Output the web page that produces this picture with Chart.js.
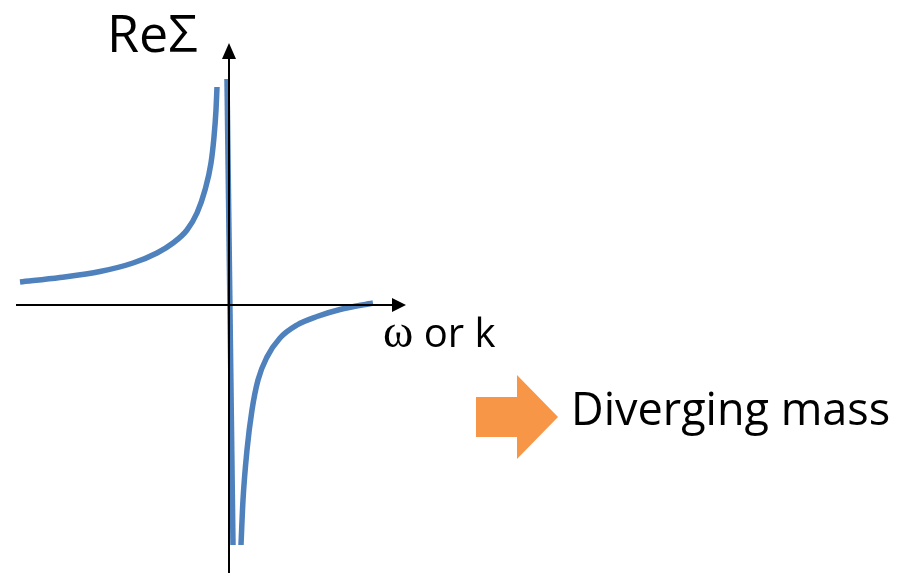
<!DOCTYPE html>
<html>
<head>
<meta charset="utf-8">
<script src="https://cdn.jsdelivr.net/npm/chart.js@4"></script>
<style>
  html, body { margin: 0; padding: 0; background: #fff; }
  #wrap { width: 915px; height: 573px; position: relative; }
</style>
</head>
<body>
<div id="wrap"><canvas id="chart1"></canvas></div>
<script>
// points (x = omega or k, y = Re Sigma), arbitrary units
const leftX  = [-20.9, -16.9, -12.9, -9.6, -7.2, -5.6, -4.2, -3.2, -2.4, -1.8, -1.5, -1.3, -1.2];
const leftY  = [2.3, 2.75, 3.35, 4.2, 5.2, 6.2, 7.5, 9.2, 11.5, 14.2, 16.8, 19.5, 21.8];
const midX   = [-0.2, 0.4];
const midY   = [22.6, -24.0];
const rightX = [1.2, 1.4, 1.8, 2.3, 2.9, 3.8, 5.1, 6.8, 8.8, 11.1, 14.4];
const rightY = [-24.0, -19.5, -14.5, -10.5, -7.5, -5.2, -3.3, -2.0, -1.15, -0.45, 0.2];

// axis extents
const xAxisFrom = -21.3, xAxisTo = 16.4;
const yAxisFrom = -26.8, yAxisTo = 24.7;

const yLabel = 'ReΣ';
const xLabelSym = 'ω';
const xLabelRest = ' or k';
const noteText = 'Diverging mass';

function pts(xs, ys) {
    return xs.map(function(x, i) { return { x: x, y: ys[i] }; });
}

const blue = '#4f81bd';

const decorPlugin = {
    id: 'decor',
    afterDatasetsDraw: function(chart) {
        const ctx = chart.ctx;
        const sx = chart.scales.x, sy = chart.scales.y;
        ctx.save();
        ctx.fillStyle = '#000';

        // arrow heads on the axes
        const hx = sx.getPixelForValue(xAxisTo), hy = sy.getPixelForValue(0);
        ctx.beginPath();
        ctx.moveTo(hx - 1, hy - 7);
        ctx.lineTo(hx + 13, hy);
        ctx.lineTo(hx - 1, hy + 7);
        ctx.closePath();
        ctx.fill();

        const vx = sx.getPixelForValue(0), vy = sy.getPixelForValue(yAxisTo);
        ctx.beginPath();
        ctx.moveTo(vx - 7, vy + 1);
        ctx.lineTo(vx, vy - 15);
        ctx.lineTo(vx + 7, vy + 1);
        ctx.closePath();
        ctx.fill();

        // labels
        ctx.textBaseline = 'alphabetic';
        ctx.textAlign = 'left';
        ctx.font = '52px "Open Sans", sans-serif';
        ctx.fillText(yLabel, 107, 52);

        ctx.font = '46px "Liberation Serif", serif';
        ctx.fillText(xLabelSym, 383, 347);
        const w = ctx.measureText(xLabelSym).width;
        ctx.font = '40px "Open Sans", sans-serif';
        ctx.fillText(xLabelRest, 383 + w, 347);

        // orange block arrow
        ctx.fillStyle = '#f79646';
        ctx.beginPath();
        ctx.moveTo(476, 397);
        ctx.lineTo(517, 397);
        ctx.lineTo(517, 375);
        ctx.lineTo(558, 417);
        ctx.lineTo(517, 459);
        ctx.lineTo(517, 437);
        ctx.lineTo(476, 437);
        ctx.closePath();
        ctx.fill();

        ctx.fillStyle = '#000';
        ctx.font = '45px "Open Sans", sans-serif';
        ctx.fillText(noteText, 571, 425);
        ctx.restore();
    }
};

document.addEventListener("DOMContentLoaded", function() {
    const ctx1 = document.getElementById('chart1').getContext('2d');
    const curve = {
        borderColor: blue,
        borderWidth: 5.5,
        pointRadius: 0,
        cubicInterpolationMode: 'monotone',
        fill: false
    };
    const axis = {
        borderColor: '#000',
        borderWidth: 2,
        pointRadius: 0,
        tension: 0,
        fill: false
    };
    new Chart(ctx1, {
        type: 'line',
        data: {
            datasets: [
                Object.assign({ label: 'x axis', data: pts([xAxisFrom, xAxisTo], [0, 0]) }, axis),
                Object.assign({ label: 'y axis', data: pts([0, 0], [yAxisFrom, yAxisTo]) }, axis),
                Object.assign({ label: 'left', data: pts(leftX, leftY) }, curve),
                Object.assign({ label: 'middle', data: pts(midX, midY), tension: 0 }, curve),
                Object.assign({ label: 'right', data: pts(rightX, rightY) }, curve)
            ]
        },
        options: {
            responsive: true,
            maintainAspectRatio: false,
            animation: false,
            layout: { padding: 0 },
            plugins: {
                legend: { display: false },
                tooltip: { enabled: false }
            },
            scales: {
                x: { type: 'linear', display: false, min: -22.9, max: 68.6 },
                y: { type: 'linear', display: false, min: -26.8, max: 30.5 }
            }
        },
        plugins: [decorPlugin]
    });
});
</script>
</body>
</html>
